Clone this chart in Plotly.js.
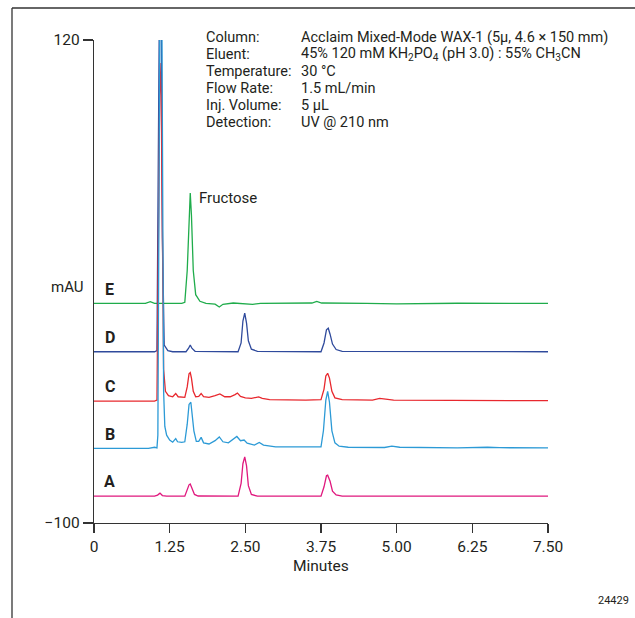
<!DOCTYPE html>
<html>
<head>
<meta charset="utf-8">
<script src="https://cdn.plot.ly/plotly-3.0.1.min.js"></script>
<style>html,body{margin:0;padding:0;background:#fff;}#chart{width:635px;height:618px;}</style>
</head>
<body>
<div id="chart"></div>
<script>
// ---- data (minutes, mAU) ----
var laneNames = ['E', 'D', 'C', 'B', 'A'];

var tE = [0, 0.85, 0.93, 1.0, 1.45, 1.5, 1.54, 1.57, 1.59, 1.61, 1.64, 1.68, 1.75, 1.85, 2.0, 2.07, 2.13, 2.3, 2.5, 2.62, 2.75, 3.6, 3.68, 3.76, 4.5, 5.0, 6.0, 7.0, 7.5];
var vE = [0, 0, 0.8, 0, 0, 0.5, 15, 42, 50.3, 40, 15, 4, 1, 0, -0.3, -1.6, -0.4, 0.2, 0, -0.4, 0, 0.2, 0.9, 0.2, 0, -0.2, 0.1, -0.1, 0];

var tD = [0, 1.0, 1.04, 1.06, 1.08, 1.11, 1.13, 1.16, 1.22, 1.3, 1.52, 1.56, 1.59, 1.62, 1.67, 2.38, 2.43, 2.46, 2.49, 2.52, 2.55, 2.6, 2.7, 3.75, 3.8, 3.84, 3.87, 3.9, 3.94, 4.0, 4.1, 7.5];
var vD = [-22, -22, -21.5, 40, 135, 135, 30, -19, -21.5, -22, -22, -20.5, -19, -20.5, -21.8, -22, -18, -8, -4.4, -9, -17, -20.8, -21.8, -22, -18, -12, -11.3, -14, -18.5, -21, -21.8, -22];

var tC = [0, 1.0, 1.04, 1.06, 1.09, 1.11, 1.13, 1.15, 1.18, 1.23, 1.3, 1.35, 1.39, 1.5, 1.54, 1.57, 1.59, 1.61, 1.64, 1.68, 1.73, 1.77, 1.81, 1.9, 2.0, 2.08, 2.16, 2.25, 2.33, 2.37, 2.42, 2.5, 2.6, 2.72, 2.78, 2.9, 3.5, 3.75, 3.8, 3.83, 3.86, 3.89, 3.93, 3.98, 4.1, 4.6, 4.72, 4.8, 4.95, 7.5];
var vC = [-44.5, -44.5, -44, 30, 109.5, 95, 20, -30, -40, -42, -42.5, -41, -42.5, -42.8, -38, -32, -31.5, -34, -40, -42.5, -42.3, -41, -42.5, -42.8, -42, -41.2, -42.5, -42.5, -41.5, -40.8, -42.3, -43, -43.2, -42.6, -43.2, -43.8, -44, -43.8, -39, -33, -31.8, -34, -40, -43, -43.8, -44, -43.2, -43.5, -44, -44.3];

var tB = [0, 0.9, 1.0, 1.04, 1.055, 1.07, 1.09, 1.12, 1.135, 1.15, 1.17, 1.2, 1.25, 1.3, 1.35, 1.38, 1.45, 1.5, 1.54, 1.57, 1.6, 1.62, 1.65, 1.69, 1.73, 1.77, 1.81, 1.9, 2.0, 2.07, 2.13, 2.22, 2.3, 2.36, 2.42, 2.48, 2.53, 2.65, 2.73, 2.8, 3.0, 3.6, 3.75, 3.79, 3.83, 3.86, 3.89, 3.93, 3.98, 4.05, 4.2, 4.8, 4.92, 5.05, 6.0, 6.5, 6.7, 7.5];
var vB = [-66, -66, -65.5, -65.8, -60, 60, 140, 140, 40, -40, -56, -60, -62.2, -63.2, -61.6, -63, -63.3, -63, -55, -46, -45, -50, -58, -62.8, -62.8, -61, -63.5, -64, -62.5, -60.8, -63, -63.5, -62, -60.6, -62.5, -62.2, -63.6, -64.5, -63.3, -64.5, -65.3, -65.5, -65.3, -58, -44, -40, -45, -58, -63.5, -65, -65.5, -65.6, -65, -65.5, -65.8, -65.5, -65.7, -65.8];

var tA = [0, 1.0, 1.05, 1.09, 1.13, 1.2, 1.5, 1.54, 1.57, 1.59, 1.62, 1.66, 1.72, 2.38, 2.43, 2.46, 2.49, 2.52, 2.55, 2.6, 2.7, 3.75, 3.8, 3.84, 3.86, 3.9, 3.94, 4.0, 4.1, 7.5];
var vA = [-87.8, -87.8, -87.3, -86.4, -87.5, -87.8, -87.8, -85, -82.6, -82.2, -84, -87, -87.7, -87.8, -82, -73, -69.9, -74, -83, -87, -87.8, -87.8, -83.5, -78.5, -78.2, -81, -85.5, -87.2, -87.8, -87.8];

var xTickVals = [0, 1.25, 2.5, 3.75, 5, 6.25, 7.5];
var xTickText = ['0', '1.25', '2.50', '3.75', '5.00', '6.25', '7.50'];
var yTickVals = [-100, 120];

var infoLabels = ['Column:', 'Eluent:', 'Temperature:', 'Flow Rate:', 'Inj. Volume:', 'Detection:'];
var infoValues = [
  'Acclaim Mixed-Mode WAX-1 (5µ, 4.6 × 150 mm)',
  '45% 120 mM KH<sub>2</sub>PO<sub>4</sub> (pH 3.0) : 55% CH<sub>3</sub>CN',
  '30 °C',
  '1.5 mL/min',
  '5 µL',
  'UV @ 210 nm'
];
var peakLabel = 'Fructose';
var peakLabelAt = [1.7, 48];
var figureId = '24429';

// ---- styling ----
var FONT = 'Roboto, Liberation Sans, sans-serif';
var TXT = '#231f20';
var colors = {E: '#1fac4b', D: '#2f4a9c', C: '#e8282e', B: '#2c9ad6', A: '#e0187e'};
var series = {E: [tE, vE], D: [tD, vD], C: [tC, vC], B: [tB, vB], A: [tA, vA]};

var W = 635, H = 618;
var M = {l: 94, r: 87, t: 40, b: 95};
var plotH = H - M.t - M.b, plotW = W - M.l - M.r;
function py(p) { return (H - M.b - p) / plotH; }
function px(p) { return (p - M.l) / plotW; }

var traces = laneNames.map(function (k) {
  return {
    x: series[k][0], y: series[k][1], type: 'scatter', mode: 'lines',
    line: {color: colors[k], width: 1.3}, hoverinfo: 'skip', showlegend: false
  };
});

var ann = [];
laneNames.forEach(function (k) {
  ann.push({x: 0.26, y: series[k][1][0] + 6.5, xref: 'x', yref: 'y', text: '<b>' + k + '</b>',
    showarrow: false, font: {family: FONT, size: 16, color: TXT}, xanchor: 'center', yanchor: 'middle'});
});
infoLabels.forEach(function (lab, i) {
  var yy = py(37 + i * 17.1);
  ann.push({x: px(204), y: yy, xref: 'paper', yref: 'paper', text: lab, showarrow: false,
    xanchor: 'left', yanchor: 'middle', font: {family: FONT, size: 14.5, color: TXT}});
  ann.push({x: px(299), y: yy, xref: 'paper', yref: 'paper', text: infoValues[i], showarrow: false,
    xanchor: 'left', yanchor: 'middle', font: {family: FONT, size: 14.5, color: TXT}});
});
ann.push({x: peakLabelAt[0], y: peakLabelAt[1], xref: 'x', yref: 'y', text: peakLabel, showarrow: false,
  xanchor: 'left', yanchor: 'middle', font: {family: FONT, size: 15, color: TXT}});
ann.push({x: px(67), y: py(287), xref: 'paper', yref: 'paper', text: 'mAU', showarrow: false,
  xanchor: 'center', yanchor: 'middle', font: {family: FONT, size: 15, color: TXT}});
ann.push({x: 0.5, y: py(566), xref: 'paper', yref: 'paper', text: 'Minutes', showarrow: false,
  xanchor: 'center', yanchor: 'middle', font: {family: FONT, size: 15.5, color: TXT}});
ann.push({x: px(631), y: py(600), xref: 'paper', yref: 'paper', text: figureId, showarrow: false,
  xanchor: 'right', yanchor: 'middle', font: {family: FONT, size: 11, color: TXT}});

var layout = {
  width: W, height: H, margin: {l: M.l, r: M.r, t: M.t, b: M.b, pad: 0},
  paper_bgcolor: '#fff', plot_bgcolor: '#fff', showlegend: false,
  font: {family: FONT, color: TXT, size: 15},
  xaxis: {range: [0, 7.5], tickmode: 'array', tickvals: xTickVals, ticktext: xTickText,
    ticks: 'outside', ticklen: 9, tickwidth: 1.2, tickcolor: '#333', showline: true, linecolor: '#333',
    linewidth: 1.3, showgrid: false, zeroline: false, fixedrange: true,
    tickfont: {family: FONT, size: 15.5, color: TXT}},
  yaxis: {range: [-100, 120], tickmode: 'array', tickvals: yTickVals,
    ticks: 'outside', ticklen: 10, tickwidth: 1.2, tickcolor: '#333', showline: true, linecolor: '#333',
    linewidth: 1.3, showgrid: false, zeroline: false, fixedrange: true,
    tickfont: {family: FONT, size: 15.5, color: TXT}},
  annotations: ann,
  shapes: [
    {type: 'line', xref: 'paper', yref: 'paper', x0: px(12), x1: px(640), y0: py(8), y1: py(8), line: {color: '#333', width: 1.3}},
    {type: 'line', xref: 'paper', yref: 'paper', x0: px(12), x1: px(12), y0: py(8), y1: py(625), line: {color: '#333', width: 1.3}}
  ]
};

Plotly.newPlot('chart', traces, layout, {staticPlot: true, displayModeBar: false});
</script>
</body>
</html>
